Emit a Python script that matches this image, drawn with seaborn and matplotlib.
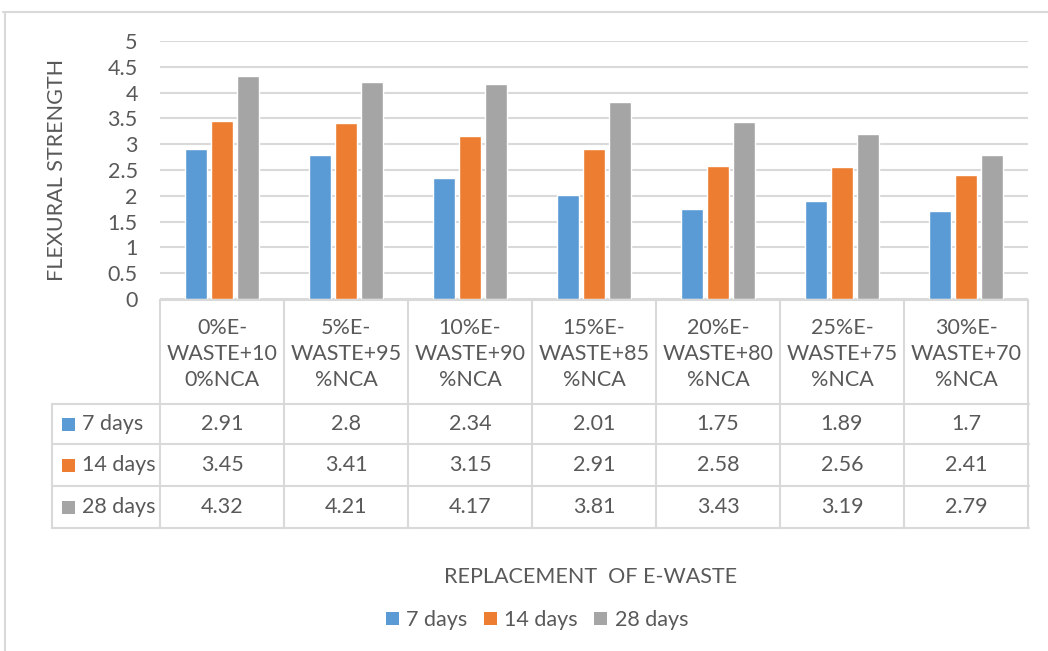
import matplotlib
matplotlib.use("Agg")
import matplotlib.pyplot as plt
import matplotlib.transforms as mtransforms
from matplotlib.lines import Line2D
from matplotlib.patches import Rectangle
import pandas as pd
import seaborn as sns

# data
categories = ["0%E-\nWASTE+10\n0%NCA", "5%E-\nWASTE+95\n%NCA", "10%E-\nWASTE+90\n%NCA",
              "15%E-\nWASTE+85\n%NCA", "20%E-\nWASTE+80\n%NCA", "25%E-\nWASTE+75\n%NCA",
              "30%E-\nWASTE+70\n%NCA"]
series = ["7 days", "14 days", "28 days"]
days7 = [2.91, 2.8, 2.34, 2.01, 1.75, 1.89, 1.7]
days14 = [3.45, 3.41, 3.15, 2.91, 2.58, 2.56, 2.41]
days28 = [4.32, 4.21, 4.17, 3.81, 3.43, 3.19, 2.79]
yticks = [0, 0.5, 1, 1.5, 2, 2.5, 3, 3.5, 4, 4.5, 5]

colors = ["#5B9BD5", "#ED7D31", "#A5A5A5"]
txt = "#595959"
grid = "#D9D9D9"
W, H = 1048, 651

df = pd.DataFrame({"cat": categories * 3,
                   "series": sum([[s] * len(categories) for s in series], []),
                   "value": days7 + days14 + days28})

sns.set_theme(style="white")
plt.rcParams["font.family"] = ["Lato", "DejaVu Sans"]
fs = 15.5

fig = plt.figure(figsize=(W / 100, H / 100), dpi=100)
fig.patch.set_facecolor("white")


def fy(y):
    return 1 - y / H


def fx(x):
    return x / W


ax = fig.add_axes([fx(160), fy(299), fx(1028) - fx(160), fy(41) - fy(299)])
sns.barplot(data=df, x="cat", y="value", hue="series", palette=colors,
            width=0.63, gap=0.16, saturation=1, ax=ax, legend=False)
ax.set_ylim(0, 5)
ax.set_xlim(-0.5, len(categories) - 0.5)
ax.set_yticks(yticks)
ax.set_yticklabels([f"{t:g}" for t in yticks])
ax.tick_params(axis="y", length=0, labelsize=fs, labelcolor=txt, pad=16)
ax.set_xticks([])
ax.set_xlabel("")
ax.set_ylabel("")
for sp in ax.spines.values():
    sp.set_visible(False)
ax.yaxis.grid(True, color=grid, lw=1.5)
ax.set_axisbelow(True)

# data table below the plot
tr = mtransforms.blended_transform_factory(ax.transData, fig.transFigure)
n = len(categories)
row_y = [404, 444, 486, 528]
lw = 1.5
fig.add_artist(Line2D([-0.5, n - 0.5], [fy(300), fy(300)], transform=tr, color=grid, lw=lw))
for yy in row_y:
    fig.add_artist(Line2D([fx(52), fx(1029)], [fy(yy), fy(yy)], transform=fig.transFigure, color=grid, lw=lw))
for i in range(n + 1):
    fig.add_artist(Line2D([i - 0.5, i - 0.5], [fy(300), fy(528)], transform=tr, color=grid, lw=lw))
fig.add_artist(Line2D([fx(52), fx(52)], [fy(404), fy(528)], transform=fig.transFigure, color=grid, lw=lw))

for i, c in enumerate(categories):
    fig.text(i, fy(354), c, transform=tr, ha="center", va="center", fontsize=fs,
             color=txt, linespacing=1.4)

rows = [days7, days14, days28]
for r, (name, vals, col) in enumerate(zip(series, rows, colors)):
    yc = (row_y[r] + row_y[r + 1]) / 2
    fig.add_artist(Rectangle((fx(62), fy(yc + 6.5)), fx(13), 13 / H, transform=fig.transFigure,
                             color=col, lw=0))
    fig.text(fx(82), fy(yc), name, ha="left", va="center", fontsize=fs, color=txt)
    for i, v in enumerate(vals):
        fig.text(i, fy(yc), f"{v:g}", transform=tr, ha="center", va="center",
                 fontsize=fs, color=txt)

# axis titles
fig.text(fx(57), fy(170), "FLEXURAL STRENGTH", rotation=90, ha="center", va="center",
         fontsize=fs, color=txt)
fig.text(fx(591), fy(577), "REPLACEMENT  OF E-WASTE", ha="center", va="center",
         fontsize=fs, color=txt)

handles = [Rectangle((0, 0), 1, 1, color=c, lw=0) for c in colors]
fig.legend(handles, series, loc="center", bbox_to_anchor=(fx(537), fy(620)), ncol=3,
           frameon=False, fontsize=fs, labelcolor=txt, handlelength=0.6, handleheight=0.6,
           handletextpad=0.35, columnspacing=0.75)

# chart frame
fig.add_artist(Line2D([fx(3), 1], [fy(12), fy(12)], transform=fig.transFigure, color=grid, lw=1.5))
fig.add_artist(Line2D([fx(5), fx(5)], [fy(12), 0], transform=fig.transFigure, color=grid, lw=1.5))

fig.savefig("out.png", dpi=100, facecolor="white")
